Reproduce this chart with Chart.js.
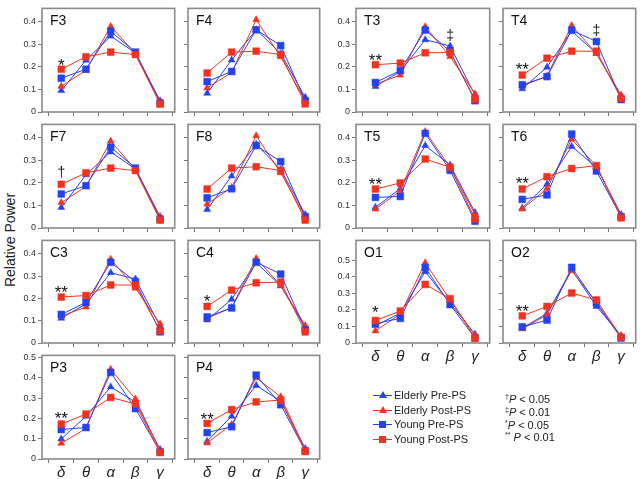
<!DOCTYPE html>
<html>
<head>
<meta charset="utf-8">
<script src="https://cdn.jsdelivr.net/npm/chart.js@4.4.1/dist/chart.umd.min.js"></script>
<style>
  body { margin: 0; background: #fff; width: 642px; height: 479px; position: relative; overflow: hidden;
         font-family: "Liberation Sans", Arial, sans-serif; color: #222; }
  canvas { position: absolute; }
  #ylab { position: absolute; left: 10px; top: 240px; transform: translate(-50%, -50%) rotate(-90deg);
          font-size: 14px; white-space: nowrap; }
  .lg { position: absolute; left: 373px; height: 14px; font-size: 11px; line-height: 14px; white-space: nowrap; padding-left: 21px; }
  .lg .ln { position: absolute; left: 0; top: 7px; width: 19px; height: 1px; }
  .lg .sq { position: absolute; left: 6px; top: 3.5px; width: 7px; height: 7px; }
  .lg .tri { position: absolute; left: 5.5px; top: 3px; width: 0; height: 0;
             border-left: 4px solid transparent; border-right: 4px solid transparent; border-bottom: 7px solid; }
  .pn { position: absolute; left: 505px; font-size: 11px; line-height: 13px; white-space: nowrap; }
  .pn sup { font-size: 7px; vertical-align: 4px; }
</style>
</head>
<body>
<div id="ylab">Relative Power</div>
<script>
// bands on the x axis
const categories = ['δ', 'θ', 'α', 'β', 'γ'];
const seriesNames = ['Elderly Pre-PS', 'Elderly Post-PS', 'Young Pre-PS', 'Young Post-PS'];
const yTickValues = [0, 0.1, 0.2, 0.3, 0.4, 0.5];

// each panel: [Elderly Pre, Elderly Post, Young Pre, Young Post]
const F3 = [[0.095, 0.230, 0.337, 0.262, 0.050], [0.114, 0.185, 0.380, 0.260, 0.045], [0.150, 0.190, 0.358, 0.266, 0.040], [0.190, 0.245, 0.266, 0.255, 0.035]];
const F4 = [[0.083, 0.231, 0.365, 0.260, 0.065], [0.107, 0.175, 0.410, 0.245, 0.050], [0.135, 0.180, 0.365, 0.295, 0.050], [0.173, 0.266, 0.270, 0.255, 0.036]];
const F7 = [[0.091, 0.236, 0.338, 0.262, 0.050], [0.113, 0.184, 0.386, 0.260, 0.050], [0.151, 0.188, 0.359, 0.266, 0.040], [0.194, 0.245, 0.266, 0.255, 0.035]];
const F8 = [[0.082, 0.231, 0.372, 0.260, 0.060], [0.106, 0.180, 0.410, 0.245, 0.050], [0.134, 0.174, 0.366, 0.295, 0.050], [0.173, 0.266, 0.272, 0.255, 0.035]];
const T3 = [[0.113, 0.180, 0.321, 0.293, 0.075], [0.124, 0.164, 0.379, 0.246, 0.081], [0.131, 0.184, 0.364, 0.270, 0.050], [0.210, 0.217, 0.263, 0.264, 0.056]];
const T4 = [[0.103, 0.199, 0.360, 0.260, 0.070], [0.115, 0.160, 0.384, 0.260, 0.075], [0.121, 0.157, 0.363, 0.313, 0.055], [0.164, 0.239, 0.270, 0.270, 0.060]];
const T5 = [[0.092, 0.175, 0.366, 0.280, 0.069], [0.084, 0.165, 0.428, 0.270, 0.060], [0.136, 0.140, 0.420, 0.256, 0.030], [0.173, 0.200, 0.306, 0.270, 0.040]];
const T6 = [[0.089, 0.194, 0.362, 0.270, 0.060], [0.084, 0.175, 0.394, 0.275, 0.055], [0.127, 0.147, 0.417, 0.253, 0.050], [0.173, 0.228, 0.264, 0.277, 0.045]];
const C3 = [[0.111, 0.175, 0.315, 0.287, 0.075], [0.121, 0.161, 0.376, 0.246, 0.086], [0.128, 0.182, 0.362, 0.275, 0.050], [0.206, 0.213, 0.260, 0.260, 0.055]];
const C4 = [[0.103, 0.196, 0.360, 0.256, 0.070], [0.110, 0.160, 0.379, 0.258, 0.079], [0.117, 0.157, 0.362, 0.309, 0.060], [0.164, 0.237, 0.270, 0.273, 0.050]];
const P3 = [[0.099, 0.210, 0.355, 0.280, 0.047], [0.077, 0.150, 0.442, 0.295, 0.040], [0.145, 0.155, 0.426, 0.248, 0.035], [0.172, 0.221, 0.303, 0.271, 0.032]];
const P4 = [[0.087, 0.211, 0.362, 0.285, 0.052], [0.079, 0.170, 0.400, 0.306, 0.045], [0.130, 0.159, 0.413, 0.267, 0.040], [0.175, 0.243, 0.281, 0.290, 0.037]];
const O1 = [[0.105, 0.180, 0.431, 0.240, 0.054], [0.073, 0.175, 0.485, 0.260, 0.045], [0.117, 0.149, 0.456, 0.232, 0.030], [0.136, 0.193, 0.354, 0.268, 0.029]];
const O2 = [[0.090, 0.179, 0.443, 0.221, 0.045], [0.085, 0.170, 0.438, 0.245, 0.040], [0.098, 0.138, 0.457, 0.240, 0.030], [0.164, 0.221, 0.302, 0.260, 0.035]];

// significance marks: [band index, height, symbol]
const sigF3 = [[0, 0.227, '*']];
const sigF7 = [[0, 0.245, '†']];
const sigT3 = [[0, 0.246, '**'], [3, 0.339, '‡']];
const sigT4 = [[0, 0.207, '**'], [3, 0.358, '‡']];
const sigT5 = [[0, 0.212, '**']];
const sigT6 = [[0, 0.217, '**']];
const sigC3 = [[0, 0.244, '**']];
const sigC4 = [[0, 0.206, '*']];
const sigP3 = [[0, 0.220, '**']];
const sigP4 = [[0, 0.214, '**']];
const sigO1 = [[0, 0.210, '*']];
const sigO2 = [[0, 0.218, '**']];

const BLUE = '#2342f2';
const RED = '#f2321f';
const styles = [
  { color: BLUE, shape: 'triangle', r: 4 },
  { color: RED, shape: 'triangle', r: 4 },
  { color: BLUE, shape: 'rect', r: 4.8 },
  { color: RED, shape: 'rect', r: 4.8 }
];

// frame positions (px)
const cols = { A: [42, 177], B: [188, 322], C: [356, 492], D: [503, 638] };
const rows = [[4, 112], [120, 228], [236, 343], [351, 459]];

const panels = [
  ['F3', F3, sigF3, 'A', 0, 0.46, true, false],
  ['F4', F4, [], 'B', 0, 0.46, false, false],
  ['F7', F7, sigF7, 'A', 1, 0.46, true, false],
  ['F8', F8, [], 'B', 1, 0.46, false, false],
  ['C3', C3, sigC3, 'A', 2, 0.46, true, false],
  ['C4', C4, sigC4, 'B', 2, 0.46, false, false],
  ['P3', P3, sigP3, 'A', 3, 0.51, true, true],
  ['P4', P4, sigP4, 'B', 3, 0.51, false, true],
  ['T3', T3, sigT3, 'C', 0, 0.46, true, false],
  ['T4', T4, sigT4, 'D', 0, 0.46, false, false],
  ['T5', T5, sigT5, 'C', 1, 0.46, true, false],
  ['T6', T6, sigT6, 'D', 1, 0.46, false, false],
  ['O1', O1, sigO1, 'C', 2, 0.62, true, true],
  ['O2', O2, sigO2, 'D', 2, 0.62, false, true]
];

const FONT = '"Liberation Sans", Arial, sans-serif';
const LEFT = 34, TOP = 3, RIGHT = 3, BOTTOM = 24;

const framePlugin = {
  id: 'frame',
  beforeDatasetsDraw(chart) {
    const { ctx, chartArea: a } = chart;
    ctx.save();
    ctx.strokeStyle = '#8a8a8a';
    ctx.lineWidth = 1.6;
    ctx.strokeRect(a.left, a.top, a.right - a.left, a.bottom - a.top);
    ctx.restore();
  },
  afterDatasetsDraw(chart, args, opts) {
    const { ctx, chartArea: a, scales } = chart;
    ctx.save();
    ctx.fillStyle = '#111';
    ctx.font = '14px ' + FONT;
    ctx.textAlign = 'left';
    ctx.textBaseline = 'alphabetic';
    ctx.fillText(opts.name, a.left + 8, a.top + 17);
    ctx.textAlign = 'center';
    ctx.textBaseline = 'middle';
    opts.sig.forEach(([i, v, s]) => {
      const x = scales.x.getPixelForValue(i + 1);
      const y = scales.y.getPixelForValue(v);
      if (s.startsWith('*')) {
        ctx.font = '17px ' + FONT;
        ctx.fillText(s, x, y + 5);
      } else {
        ctx.font = '14px ' + FONT;
        ctx.fillText(s, x, y);
      }
    });
    ctx.restore();
  }
};

panels.forEach(([name, data, sig, col, row, yMax, showY, showX]) => {
  const [fl, fr] = cols[col];
  const [ft, fb] = rows[row];
  const canvas = document.createElement('canvas');
  canvas.width = fr - fl + LEFT + RIGHT;
  canvas.height = fb - ft + TOP + BOTTOM;
  canvas.style.left = (fl - LEFT) + 'px';
  canvas.style.top = (ft - TOP) + 'px';
  document.body.appendChild(canvas);

  // drawn in reverse so Young Post-PS ends on top
  const datasets = data.map((vals, k) => ({
    label: seriesNames[k],
    data: vals.map((v, i) => ({ x: i + 1, y: v })),
    borderColor: styles[k].color,
    backgroundColor: styles[k].color,
    borderWidth: 1,
    pointStyle: styles[k].shape,
    pointRadius: styles[k].r,
    pointBorderWidth: 0.5,
    clip: false
  })).reverse();

  new Chart(canvas, {
    type: 'line',
    data: { datasets },
    plugins: [framePlugin],
    options: {
      responsive: false,
      animation: false,
      devicePixelRatio: 1,
      layout: { padding: { top: TOP, right: RIGHT, left: 0, bottom: 0 } },
      plugins: {
        legend: { display: false },
        tooltip: { enabled: false },
        frame: { name, sig }
      },
      scales: {
        x: {
          type: 'linear',
          min: 0.22,
          max: 5.59,
          afterFit: s => { s.height = BOTTOM; },
          afterBuildTicks: s => { s.ticks = [0.5, 1, 1.5, 2, 2.5, 3, 3.5, 4, 4.5, 5, 5.5].map(v => ({ value: v })); },
          border: { display: false },
          grid: {
            drawOnChartArea: false,
            tickLength: 4,
            tickColor: c => Number.isInteger(c.tick.value) ? 'rgba(0,0,0,0)' : '#777'
          },
          ticks: {
            autoSkip: false,
            maxRotation: 0,
            padding: 1,
            color: '#222',
            font: { size: 15, style: 'italic', family: FONT },
            callback: v => (showX && Number.isInteger(v)) ? categories[v - 1] : ''
          }
        },
        y: {
          min: 0,
          max: yMax,
          afterFit: s => { s.width = LEFT; },
          afterBuildTicks: s => { s.ticks = yTickValues.filter(v => v <= yMax - 0.005).map(v => ({ value: v })); },
          border: { display: false },
          grid: { drawOnChartArea: false, tickLength: 4, tickColor: '#777' },
          ticks: {
            padding: 2,
            color: '#333',
            font: { size: 9, family: FONT },
            callback: v => showY ? (v === 0 ? '0' : v.toFixed(1)) : ''
          }
        }
      }
    }
  });
});

// legend
const legendTops = [388, 402.5, 417, 432];
seriesNames.forEach((n, k) => {
  const d = document.createElement('div');
  d.className = 'lg';
  d.style.top = legendTops[k] + 'px';
  const st = styles[k];
  const mk = st.shape === 'rect'
    ? `<span class="sq" style="background:${st.color}"></span>`
    : `<span class="tri" style="border-bottom-color:${st.color}"></span>`;
  d.innerHTML = `<span class="ln" style="background:${st.color}"></span>${mk}${n}`;
  document.body.appendChild(d);
});

const notes = [
  ['†', ' < 0.05'],
  ['‡', ' < 0.01'],
  ['*', ' < 0.05'],
  ['**', ' < 0.01']
];
const noteTops = [389.5, 402.5, 415.5, 427.5];
notes.forEach(([m, t], k) => {
  const d = document.createElement('div');
  d.className = 'pn';
  d.style.top = noteTops[k] + 'px';
  d.innerHTML = `<sup>${m}</sup>${m === '**' ? ' ' : ''}<i>P</i>${t}`;
  document.body.appendChild(d);
});
</script>
</body>
</html>
